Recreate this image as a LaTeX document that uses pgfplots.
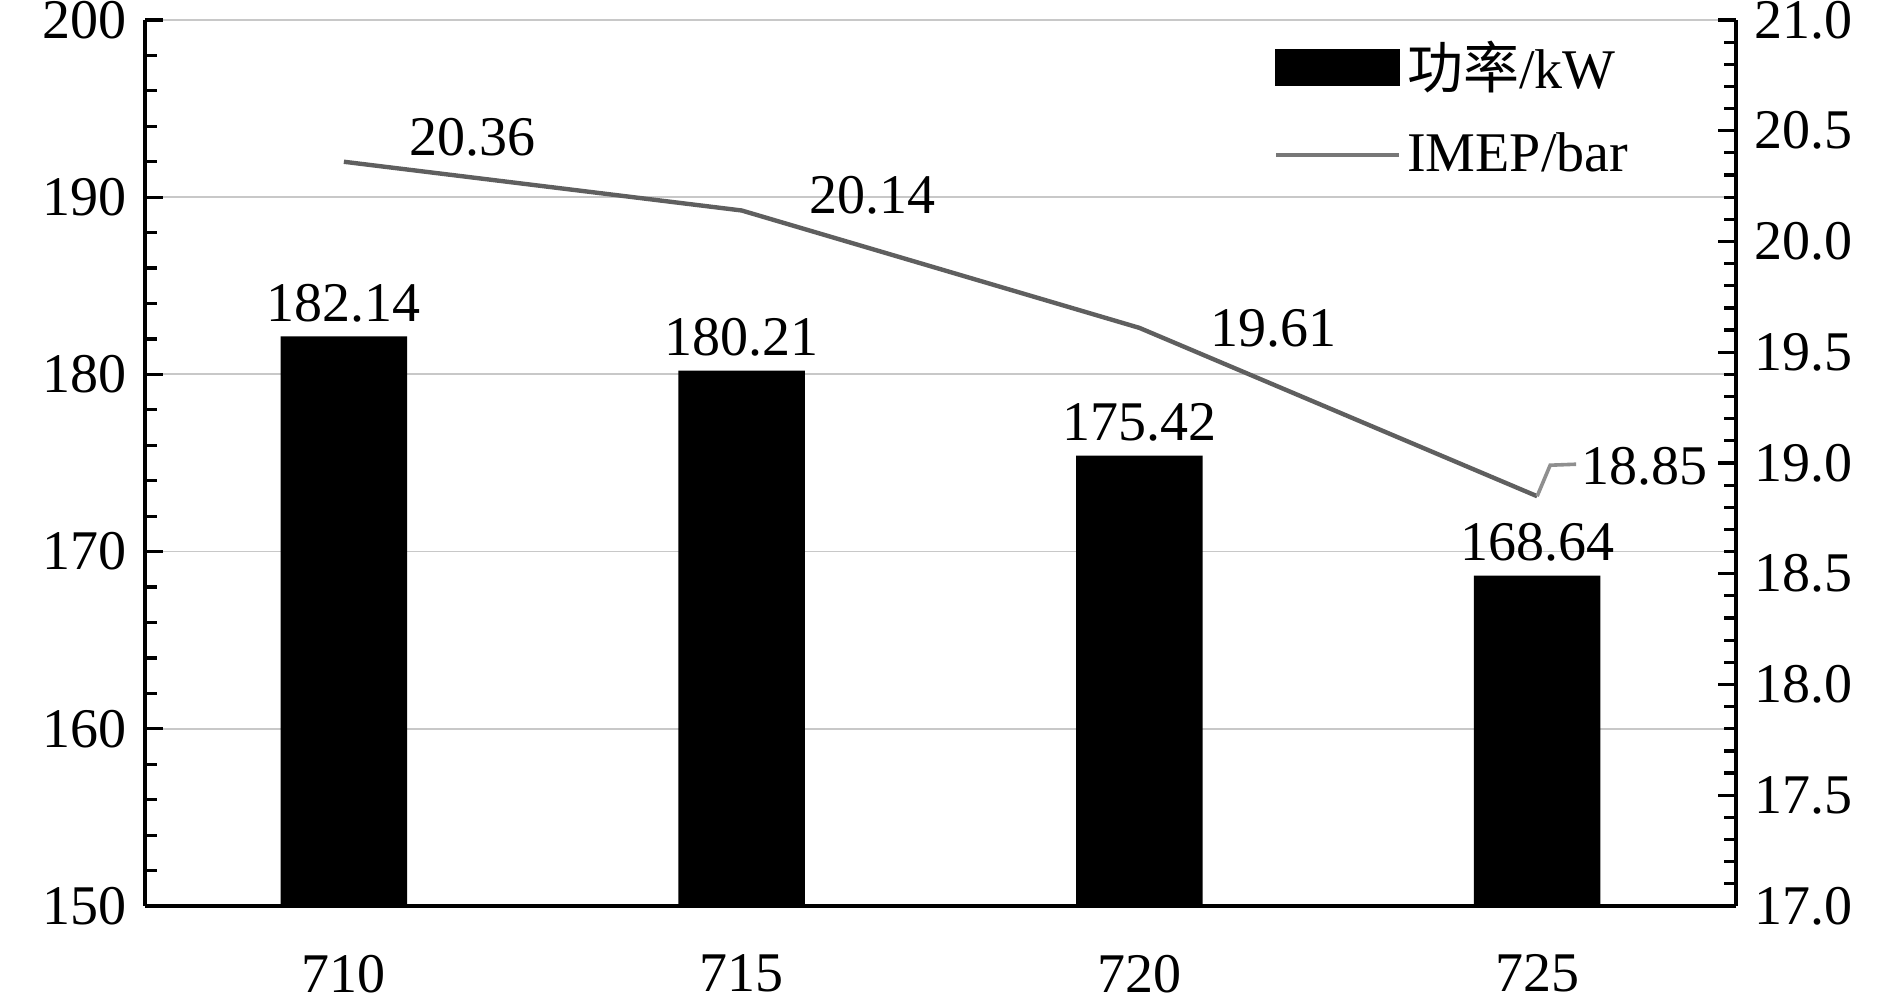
\documentclass[border=0pt]{standalone}
\usepackage{fontspec}
\setmainfont{Liberation Serif}
\newfontfamily\cjk{Noto Sans CJK SC}
\usepackage{pgfplots}
\usepackage{pgfplotstable}
\pgfplotsset{compat=1.18}

\definecolor{gridgray}{RGB}{200,200,200}
\definecolor{linegray}{RGB}{95,95,95}

% power per speed, bars
\pgfplotstableread{
x    p
0.5  182.14
1.5  180.21
2.5  175.42
3.5  168.64
}\power

% IMEP line, with label offsets (pt)
\pgfplotstableread{
x    y      lab    dx    dy
0.5  20.36  20.36  15.9  6.0
1.5  20.14  20.14  16.4  3.9
2.5  19.61  19.61  17.3  0.0
3.5  18.85  18.85  10.5  7.5
}\imep

\pgfplotsset{
  base/.style={
    width=397.75pt, height=221.5pt, scale only axis,
    xmin=0, xmax=4,
    font=\fontsize{14}{16}\selectfont,
    /pgf/number format/assume math mode=true,
    axis line style={line width=0.8pt},
    tick style={line width=0.8pt, black},
    tick align=inside,
    major tick length=4.5pt, minor tick length=3pt,
    tick label style={inner sep=0pt},
  },
}

\begin{document}
\begin{tikzpicture}
\begin{axis}[base,
  axis x line*=bottom, axis y line*=left,
  ymin=150, ymax=200, ytick={150,160,...,200}, minor y tick num=4,
  ymajorgrids, grid style={gridgray, line width=0.45pt},
  xtick={0.5,1.5,2.5,3.5}, xticklabels={710,715,720,725},
  xtick style={draw=none},
  xticklabel style={yshift=-12pt},
  yticklabel style={xshift=-4.5pt},
  nodes near coords={\pgfmathprintnumber[fixed,fixed zerofill,precision=2]{\pgfplotspointmeta}},
  every node near coord/.append style={font=\fontsize{14}{16}\selectfont},
]
\addplot[ybar, bar width=31.65pt, fill=black, draw=none] table[x=x, y=p] {\power};
\end{axis}

\begin{axis}[base,
  axis x line=none, axis y line*=right,
  ymin=17, ymax=21, ytick={17,17.5,...,21}, minor y tick num=4,
  yticklabel style={xshift=4.5pt, /pgf/number format/.cd, fixed, fixed zerofill, precision=1},
  legend style={draw=none, fill=none, inner sep=0pt,
    at={(axis description cs:0.709,0.984)}, anchor=north west,
    row sep=6.5pt, nodes={inner sep=1.5pt}},
  legend cell align=left,
]
\addlegendimage{legend image code/.code={\fill[black] (0pt,-4.4pt) rectangle (30.75pt,4.4pt);}}
\addlegendentry{{\cjk 功率}/kW}
\addplot[linegray, line width=1.1pt,
  legend image code/.code={\draw[linegray!85, line width=1.1pt] (0pt,0pt) -- (30.75pt,0pt);},
  nodes near coords, point meta=explicit symbolic,
  visualization depends on={\thisrow{dx}\as\dx},
  visualization depends on={\thisrow{dy}\as\dy},
  every node near coord/.append style={black, anchor=west, inner sep=0pt,
    font=\fontsize{14}{16}\selectfont, xshift=\dx pt, yshift=\dy pt},
] table[x=x, y=y, meta=lab] {\imep};
\addlegendentry{IMEP/bar}
\draw[linegray!70, line width=0.9pt] (axis cs:3.5,18.85) -- ++(3.25pt,7.75pt) -- ++(6.5pt,0.25pt);
\end{axis}
\path (-36.25pt,-24pt) rectangle (436.25pt,226.5pt);
\end{tikzpicture}
\end{document}
